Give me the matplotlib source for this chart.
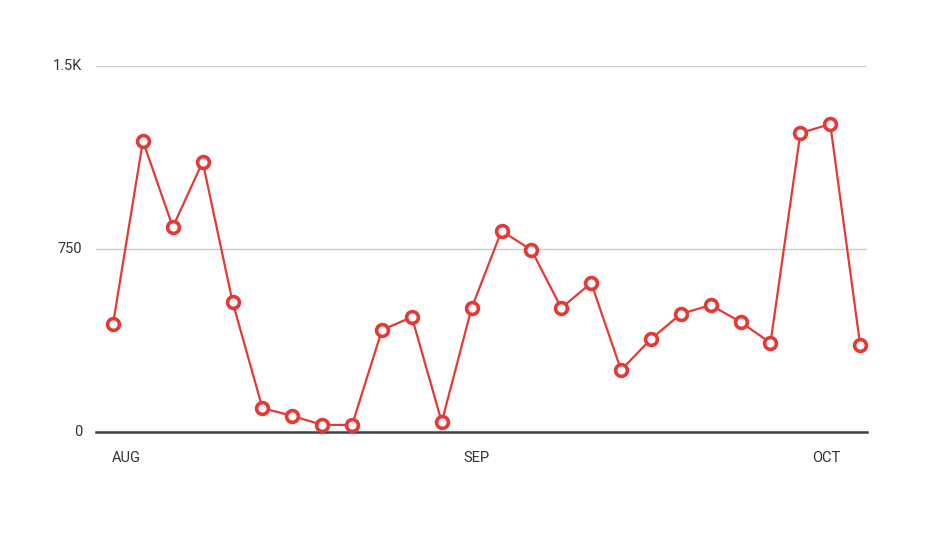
import matplotlib
matplotlib.use("Agg")
import matplotlib.pyplot as plt

values = [443, 1193, 840, 1107, 533, 98, 66, 29, 29, 418, 471, 41, 508, 824,
          746, 508, 611, 254, 381, 484, 520, 451, 365, 1225, 1262, 357]
x_tick_pos = [0.45, 12.17, 23.85]
x_tick_labels = ["AUG", "SEP", "OCT"]
y_ticks = [0, 750, 1500]
y_tick_labels = ["0", "750", "1.5K"]

plt.rcParams['font.family'] = ['Roboto', 'DejaVu Sans']

fig = plt.figure(figsize=(9.33, 5.33), dpi=100)
ax = fig.add_axes([96/933, (533-432)/533, (867-96)/933, (432-66)/533])

color = "#e53935"
ax.plot(range(len(values)), values, color=color, lw=1.6, marker='o',
        markersize=8.5, markerfacecolor='white', markeredgecolor=color,
        markeredgewidth=2.6, zorder=3, clip_on=False)

ax.set_xlim(-0.57, 25.23)
ax.set_ylim(0, 1500)
ax.set_yticks(y_ticks)
ax.set_yticklabels(y_tick_labels)
ax.set_xticks(x_tick_pos)
ax.set_xticklabels(x_tick_labels)
ax.tick_params(axis='both', length=0, labelsize=10.5, colors='#333333')
ax.tick_params(axis='x', pad=14)
ax.tick_params(axis='y', pad=10)
for lbl in ax.get_yticklabels():
    lbl.set_verticalalignment('center')

ax.grid(axis='y', color='#cccccc', lw=1)
ax.set_axisbelow(True)
for s in ['top', 'right', 'left']:
    ax.spines[s].set_visible(False)
ax.spines['bottom'].set_color('#3c4248')
ax.spines['bottom'].set_linewidth(1.8)
ax.spines['bottom'].set_zorder(2)

fig.savefig("out.png", dpi=100)
